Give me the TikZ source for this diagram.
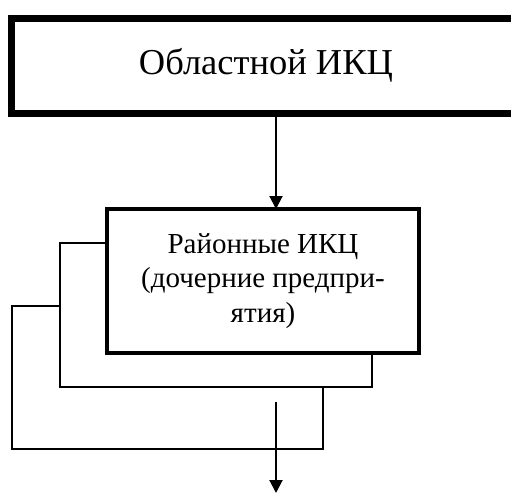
\documentclass[tikz,border=0pt]{standalone}
\usepackage{fontspec}
\setmainfont{Liberation Serif}
\usepackage{tikz}
\usetikzlibrary{arrows.meta}

\begin{document}
\begin{tikzpicture}[x=1pt, y=-1pt,
  box/.style={draw, fill=white, outer sep=0pt, inner sep=0pt},
  arr/.style={line width=2pt, -{Triangle[length=13pt, width=13pt]}}]
\useasboundingbox (0,0) rectangle (511,493);
\clip (0,0) rectangle (511,493);
\node [box, line width=7pt, minimum width=509pt, minimum height=95.5pt,
  font=\fontsize{36.5}{40}\selectfont] (obl) at (266,65.75) {Областной ИКЦ};
\node [box, line width=2pt, minimum width=311pt, minimum height=143pt] (rai3) at (167.5,377.5) {};
\node [box, line width=2pt, minimum width=312pt, minimum height=144pt] (rai2) at (216,315) {};
\node [box, line width=4pt, minimum width=312pt, minimum height=144pt, align=center,
  font=\fontsize{29}{34.5}\selectfont] (rai) at (263,281)
  {Районные ИКЦ\\(дочерние предпри-\\ятия)};
\coordinate (a) at (276,0);
\draw [arr] (a |- obl.south) -- (a |- rai.north);
\coordinate (out1) at (276,402);
\coordinate (out2) at (276,493);
\draw [arr] (out1) -- (out2);
\end{tikzpicture}
\end{document}
